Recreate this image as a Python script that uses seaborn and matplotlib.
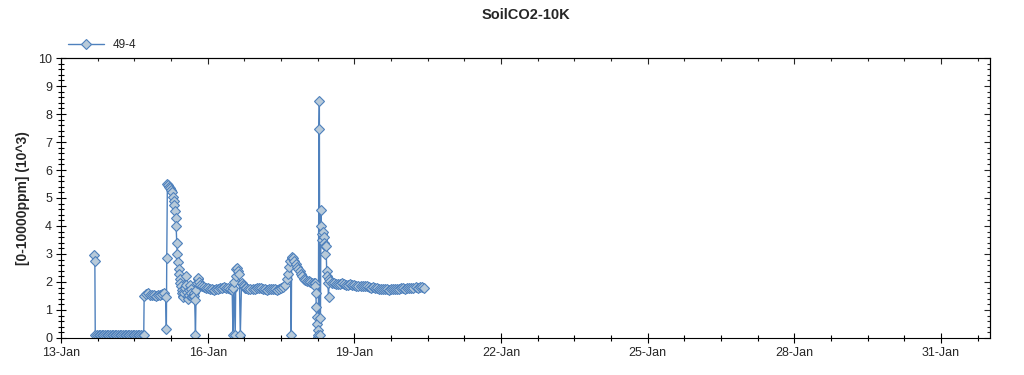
import pandas as pd
import seaborn as sns
import matplotlib.pyplot as plt
import matplotlib.dates as mdates
from matplotlib.ticker import MultipleLocator

# hours after 13-Jan 00:00 and readings (10^3 ppm)
hours = [
    16.4, 16.6, 16.8, 17.6, 18.4, 19.2, 20.0, 20.8, 21.6, 22.4, 23.2, 24.0,
    24.8, 25.6, 26.4, 27.2, 28.0, 28.8, 29.6, 30.4, 31.2, 32.0, 32.8, 33.6,
    34.4, 35.2, 36.0, 36.8, 37.6, 38.4, 39.2, 40.0, 40.6,
    40.8, 41.5, 42.5, 43.5, 44.5, 45.5, 46.5, 47.5, 48.5, 49.5, 50.5, 51.4,
    51.7, 51.9, 52.2, 52.7, 53.2, 53.7, 54.2, 54.7, 55.0, 55.3, 55.6, 55.9,
    56.2, 56.5, 56.8, 57.1, 57.4, 57.7, 58.0, 58.3, 58.6, 58.9, 59.2, 59.5,
    59.8, 60.1, 60.4, 60.7, 61.2, 61.5, 61.8, 62.1, 62.4, 62.7, 63.0, 63.3,
    63.6, 63.9, 64.2, 64.5, 64.8, 65.1, 65.4, 65.6, 66.0, 66.3, 66.6, 67.0,
    67.4, 67.8, 68.2, 69.0, 70.0, 71.0, 72.0, 73.0, 74.0, 75.0, 76.0, 77.0,
    78.0, 79.0, 80.0, 81.0, 82.0, 83.0, 84.0, 84.4, 84.6, 84.8, 85.5, 85.8,
    86.1, 86.6, 87.1, 87.5, 88.0, 88.6, 89.4, 89.7, 90.2, 91.0, 92.0, 93.0,
    94.0, 95.0, 96.0, 97.0, 98.0, 99.0, 100.0, 101.0, 102.0, 103.0, 104.0,
    105.0, 106.0, 107.0, 108.0, 109.0, 110.0, 110.8, 111.4, 112.0, 112.6,
    113.0, 113.2, 113.6, 114.1, 114.6, 115.2, 115.8, 116.5, 117.1, 117.8,
    118.5, 119.2, 120.0, 120.8, 121.6, 122.4, 123.2, 124.0, 124.6, 124.9,
    125.1, 125.3, 125.5, 125.7, 125.9, 126.1, 126.3, 126.6, 126.8, 127.0,
    127.3, 127.6, 127.8, 128.0, 128.3, 128.6, 128.9, 129.2, 129.5, 129.8,
    130.1, 130.4, 130.7, 131.0, 131.3, 131.6, 132.0, 133.0, 134.0, 135.0,
    136.0, 137.0, 138.0, 139.0, 140.0, 141.0, 142.0, 143.0, 144.0, 145.0,
    146.0, 147.0, 148.0, 149.0, 150.0, 151.0, 152.0, 153.0, 154.0, 155.0,
    156.0, 157.0, 158.0, 159.0, 160.0, 161.0, 162.0, 163.0, 164.0, 165.0,
    166.0, 167.0, 168.0, 169.0, 170.0, 171.0, 172.0, 173.0, 174.0, 175.0,
    176.0, 177.0, 178.3,
]
co2 = [
    2.95, 2.75, 0.10, 0.10, 0.10, 0.10, 0.10, 0.10, 0.10, 0.10, 0.10, 0.10,
    0.10, 0.10, 0.10, 0.10, 0.10, 0.10, 0.10, 0.10, 0.10, 0.10, 0.10, 0.10,
    0.10, 0.10, 0.10, 0.10, 0.10, 0.10, 0.10, 0.10, 0.10,
    1.50, 1.58, 1.60, 1.55, 1.52, 1.55, 1.50, 1.52, 1.55, 1.56, 1.60, 1.45,
    0.32, 2.85, 5.50, 5.45, 5.40, 5.35, 5.30, 5.20, 5.05, 4.90, 4.75, 4.55,
    4.30, 4.00, 3.40, 3.00, 2.70, 2.45, 2.30, 2.10, 1.95, 1.85, 1.70, 1.60,
    1.50, 1.45, 1.60, 1.80, 2.20, 1.90, 1.65, 1.50, 1.40, 1.55, 1.70, 1.90,
    1.75, 1.60, 1.50, 1.45, 1.50, 1.60, 1.50, 1.36, 0.10, 1.70, 1.95, 2.10,
    2.15, 2.00, 1.90, 1.85, 1.82, 1.80, 1.78, 1.76, 1.75, 1.72, 1.74, 1.76,
    1.78, 1.80, 1.82, 1.80, 1.78, 1.75, 1.72, 0.10, 1.80, 2.00, 0.10, 2.20,
    2.45, 2.50, 2.40, 2.30, 0.10, 1.95, 1.90, 1.85, 1.80, 1.78, 1.76, 1.75,
    1.74, 1.76, 1.78, 1.80, 1.78, 1.76, 1.74, 1.72, 1.74, 1.76, 1.75, 1.74,
    1.73, 1.75, 1.78, 1.82, 1.90, 2.10, 2.30, 2.55, 2.75,
    0.10, 2.85, 2.90, 2.85, 2.75, 2.65, 2.55, 2.45, 2.40, 2.30,
    2.20, 2.12, 2.08, 2.05, 2.02, 2.00, 1.98, 1.96, 1.95, 1.85,
    1.60, 1.10, 0.75, 0.50, 0.05, 0.30, 0.10, 7.45, 8.45, 0.70,
    0.10, 4.57, 4.00, 3.70, 3.50, 3.80, 3.60, 3.40, 3.30, 3.00,
    3.30, 2.40, 2.20, 1.95, 1.46, 2.10, 2.05, 1.98, 1.95, 1.94,
    1.92, 1.94, 1.95, 1.92, 1.90, 1.91, 1.92, 1.90, 1.88, 1.87,
    1.86, 1.85, 1.84, 1.86, 1.84, 1.82, 1.80, 1.82, 1.80, 1.78,
    1.76, 1.75, 1.76, 1.75, 1.74, 1.72, 1.74, 1.76, 1.75, 1.74,
    1.75, 1.77, 1.78, 1.76, 1.78, 1.80, 1.79, 1.80, 1.82, 1.80,
    1.82, 1.83, 1.78,
]

start = pd.Timestamp("2024-01-13")
df = pd.DataFrame({"time": start + pd.to_timedelta(hours, unit="h"), "value": co2})

line_color = "#4F81BD"
face_color = "#B8CAD9"

sns.set_style("ticks")
plt.rcParams["font.family"] = ["Liberation Sans", "DejaVu Sans"]

fig = plt.figure(figsize=(10.24, 3.75), dpi=100)
ax = fig.add_axes([0.0596, 0.0987, 0.9072, 0.7466])

sns.lineplot(data=df, x="time", y="value", ax=ax, sort=False, estimator=None,
             color=line_color, linewidth=1.0, marker="D", markersize=5,
             markerfacecolor=face_color, markeredgecolor=line_color,
             markeredgewidth=0.8, label="49-4")

ax.set_xlim(start, pd.Timestamp("2024-02-01"))
ax.set_ylim(0, 10)
major = pd.date_range(start, periods=7, freq="3D")
minor = pd.date_range(start, pd.Timestamp("2024-02-01"), freq="18h")
ax.set_xticks(major)
ax.set_xticks(minor, minor=True)
ax.xaxis.set_major_formatter(mdates.DateFormatter("%d-%b"))
ax.yaxis.set_major_locator(MultipleLocator(1))
ax.yaxis.set_minor_locator(MultipleLocator(0.2))
ax.tick_params(which="major", direction="inout", length=7, width=0.8,
               labelsize=9, color="black", pad=3)
ax.tick_params(which="minor", direction="inout", length=4, width=0.8, color="black")

# top and right spines carry inward ticks without labels
top = ax.secondary_xaxis("top")
top.set_xticks(major)
top.set_xticks(minor, minor=True)
top.tick_params(which="major", direction="in", length=4, width=0.8, labeltop=False)
top.tick_params(which="minor", direction="in", length=2.5, width=0.8)
right = ax.secondary_yaxis("right")
right.yaxis.set_major_locator(MultipleLocator(1))
right.yaxis.set_minor_locator(MultipleLocator(0.2))
right.tick_params(which="major", direction="in", length=4, width=0.8, labelright=False)
right.tick_params(which="minor", direction="in", length=2.5, width=0.8)

for s in ax.spines.values():
    s.set_visible(True)
    s.set_linewidth(0.8)
    s.set_color("black")

ax.set_xlabel("")
ax.set_ylabel("[0-10000ppm] (10^3)", fontsize=10, fontweight="bold", labelpad=6)
ax.set_title("SoilCO2-10K", fontsize=10.5, fontweight="bold", pad=28)

ax.legend(loc="lower left", bbox_to_anchor=(0.0, 1.0), frameon=False,
          fontsize=8.5, handlelength=3, borderaxespad=0.2)

fig.savefig("out.png", dpi=100)
